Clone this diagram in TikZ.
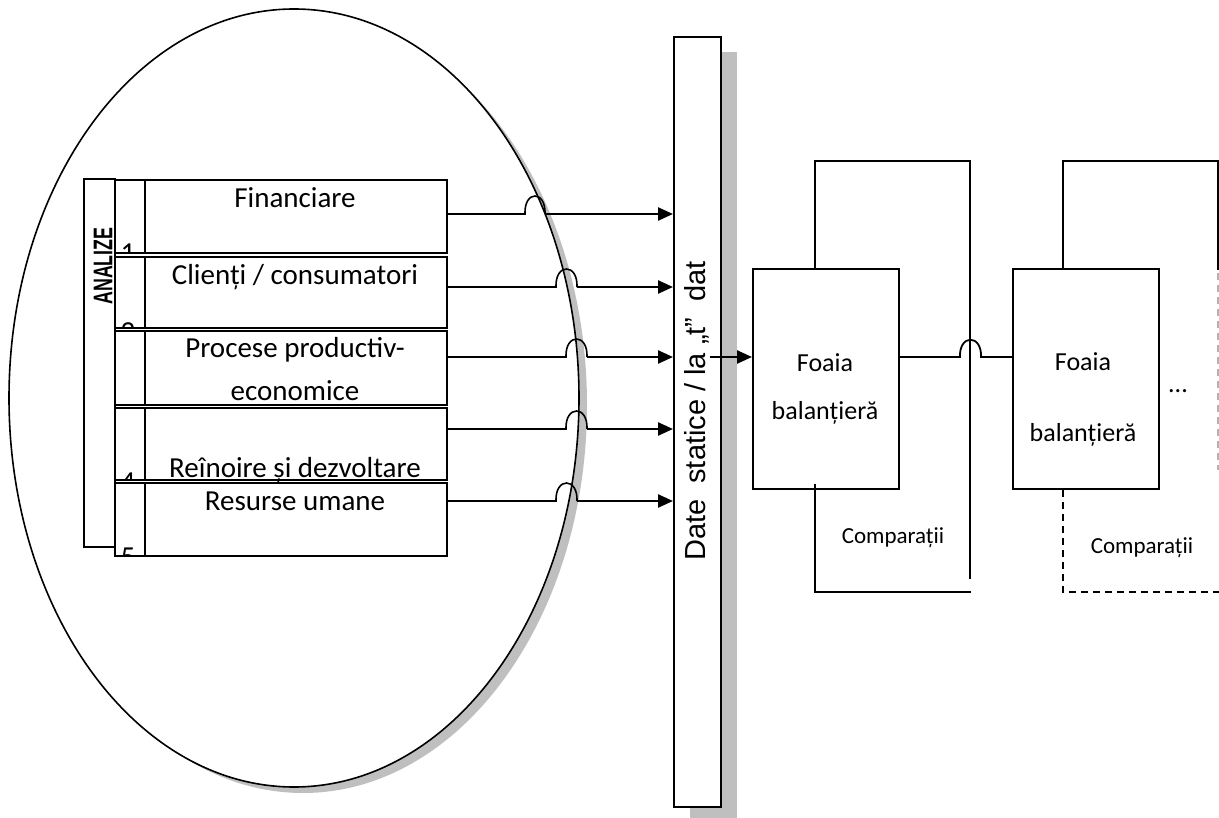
\documentclass[tikz,border=0pt]{standalone}
\usepackage{fontspec}
\setmainfont{Carlito}
\newfontfamily\arialf{Liberation Sans}
\usetikzlibrary{arrows.meta}
\begin{document}
\begin{tikzpicture}[x=1pt,y=-1pt,
  rowbox/.style={draw, line width=2pt, fill=white, minimum width=332pt, anchor=north west, inner sep=0pt},
  lbl/.style={font=\fontsize{29}{30}\selectfont, inner sep=0pt, anchor=base},
  flbl/.style={font=\fontsize{26}{27}\selectfont, inner sep=0pt, anchor=base},
  clbl/.style={font=\fontsize{23}{24}\selectfont, inner sep=0pt, anchor=base},
  thinline/.style={line width=1.6pt},
  thickline/.style={line width=2.4pt, -{Triangle[length=15pt,width=13pt]}},
  rline/.style={line width=1.8pt},
  dashline/.style={line width=1.6pt, dash pattern=on 7pt off 5pt},
  sheet/.style={draw, line width=1.8pt, fill=white, minimum width=146pt, minimum height=220pt, anchor=north west, inner sep=0pt}
]
\useasboundingbox (0,0) rectangle (1219,818);

% ellipse with shadow
\fill[gray!50] (303,405) ellipse [x radius=284pt, y radius=388pt];
\draw[line width=1.6pt, fill=white] (294,398) ellipse [x radius=285pt, y radius=389pt];

% ANALIZE box
\node[draw, line width=2pt, fill=white, minimum width=31pt, minimum height=368pt, anchor=north west, inner sep=0pt] (an) at (83,178) {};
\node[rotate=90, inner sep=0pt, font=\arialf\bfseries\fontsize{27}{27}\selectfont] (antext) at (103,266) {\scalebox{0.66}[1]{ANALIZE}};

% rows
\node[rowbox, minimum height=73pt] (r1) at (114,179) {};
\draw[line width=2pt] (145,179) -- (145,252);
\begin{scope}\clip (114,179) rectangle (145,252);
\node[lbl] (n1) at (128,263) {1};\end{scope}

\node[rowbox, minimum height=71pt] (r2) at (114,256) {};
\draw[line width=2pt] (145,256) -- (145,327);
\begin{scope}\clip (114,256) rectangle (145,327);
\node[lbl] (n2) at (128,342) {2};\end{scope}

\node[rowbox, minimum height=74pt] (r3) at (114,330) {};
\draw[line width=2pt] (145,330) -- (145,404);

\node[rowbox, minimum height=72pt] (r4) at (114,407) {};
\draw[line width=2pt] (145,407) -- (145,479);
\begin{scope}\clip (114,407) rectangle (145,479);
\node[lbl] (n4) at (128,491) {4};\end{scope}

\node[rowbox, minimum height=73pt] (r5) at (114,482) {};
\draw[line width=2pt] (145,482) -- (145,555);
\begin{scope}\clip (114,482) rectangle (145,555);
\node[lbl] (n5) at (128,566) {5};\end{scope}

\node[lbl] (t1) at (295,208) {Financiare};
\node[lbl] (t2) at (295,285) {Clienți / consumatori};
\node[lbl] (t3a) at (295,358) {Procese productiv-};
\node[lbl] (t3b) at (295,401) {economice};
\node[lbl] (t4) at (295,477) {Reînoire și dezvoltare};
\node[lbl] (t5) at (295,510) {Resurse umane};

% vertical bar with shadow
\fill[gray!50] (690,52) rectangle (737,818);
\node[draw, line width=2pt, fill=white, minimum width=47pt, minimum height=770pt, anchor=north west, inner sep=0pt] (bar) at (673,36) {};
\node[rotate=90, anchor=base, inner sep=0pt, font=\arialf\fontsize{29}{29}\selectfont] (bartext) at (705,411) {Date\ \ statice / la „t”\ \ dat};

% arrows with hops
\coordinate (a1) at (446,214);
\coordinate (a2) at (446,287);
\coordinate (a3) at (446,357);
\coordinate (a4) at (446,429);
\coordinate (a5) at (446,501);
\draw[thinline] (a1) -- (525,214) .. controls (524,190) and (546,190) .. (545,214);
\draw[thickline] (545,214) -- (bar.west |- a1);
\draw[thinline] (a2) -- (556,287) .. controls (555,263) and (578,263) .. (577,287);
\draw[thickline] (577,287) -- (bar.west |- a2);
\draw[thinline] (a3) -- (566,357) .. controls (565,333) and (588,333) .. (587,357);
\draw[thickline] (587,357) -- (bar.west |- a3);
\draw[thinline] (a4) -- (566,429) .. controls (565,405) and (588,405) .. (587,429);
\draw[thickline] (587,429) -- (bar.west |- a4);
\draw[thinline] (a5) -- (556,501) .. controls (555,477) and (578,477) .. (577,501);
\draw[thickline] (577,501) -- (bar.west |- a5);

% right side sheets
\node[sheet] (f1) at (752,268) {};
\node[sheet] (f2) at (1012,268) {};
\node[flbl] (f1a) at (825,372) {Foaia};
\node[flbl] (f1b) at (825,420) {balanțieră};
\node[flbl] (f2a) at (1083,371) {Foaia};
\node[flbl] (f2b) at (1083,442) {balanțieră};
\node[flbl] (dots) at (1178,392) {...};
\node[clbl] (c1) at (893,543) {Comparații};
\node[clbl] (c2) at (1142,553) {Comparații};

\coordinate (s) at (710,357);
\draw[thickline] (s) -- (f1.west |- s);

% loop 1
\draw[rline] (815,268) -- (815,161) -- (970,161) -- (970,579);
\draw[rline] (815,484) -- (815,592) -- (971,592);
\draw[rline] (f1.east |- s) -- (960,357) .. controls (959,334) and (982,334) .. (981,357) -- (f2.west |- s);

% loop 2
\draw[rline] (1063,268) -- (1063,161) -- (1218,161) -- (1218,270);
\draw[dashline, gray!60] (1218,273) -- (1218,470);
\draw[dashline] (1063,490) -- (1063,592) -- (1219,592);
\end{tikzpicture}
\end{document}
